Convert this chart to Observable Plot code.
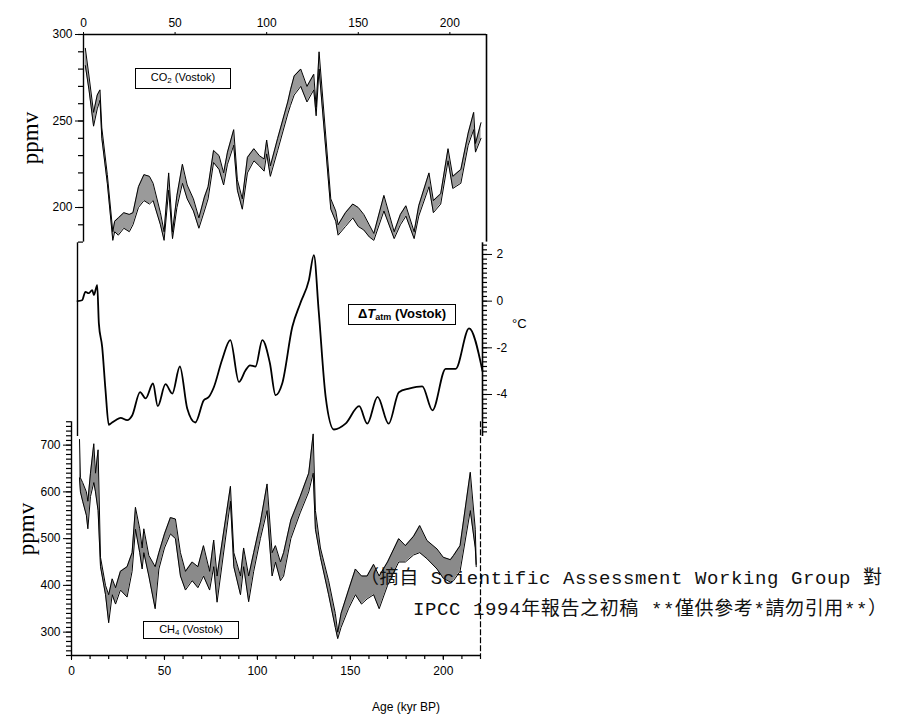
<!DOCTYPE html>
<html><head><meta charset="utf-8">
<script src="https://cdn.jsdelivr.net/npm/d3@7"></script>
<script src="https://cdn.jsdelivr.net/npm/@observablehq/plot@0.6"></script>
<style>
body{margin:0;background:#fff;}
#wrap{position:relative;width:897px;height:722px;background:#fff;overflow:hidden;font-family:"Liberation Sans",Arial,sans-serif;color:#000;}
#wrap svg{position:absolute;left:0;top:0;}
.box{position:absolute;border:1.5px solid #000;box-sizing:border-box;white-space:nowrap;background:#fff;text-align:center;}
.box sub{vertical-align:-2px;line-height:0;}
.lbl{position:absolute;white-space:nowrap;}
</style></head><body><div id="wrap"></div>
<script>
// ---- data ----
const co2Age = [1,3,5.5,7.5,9,10,13,16,17,19,22,25,27,30,33,36,38,42,44,46.5,48.6,51,54,56.6,60,63,66,68,71,74,76.5,78.6,82,84,86.7,89.5,93,96,98.6,100,102,106,111.5,113,115,118.6,122,125.7,127,128.6,135,137.7,139,143,147,150,153,156,158.5,164,169.6,173,176,180.5,183,188.6,191,195,199,201.6,206,210,213,214,217];
const co2Lo  = [282,268,247,257,262,240,214,181,186,184,188,186,190,200,204,202,204,190,181,210,182,200,214,205,198,188,198,205,226,222,213,225,236,210,199,220,227,224,221,231,218,233,254,259,265,270,261,268,253,280,199,192,184,189,194,189,187,183,181,198,182,190,195,182,195,212,197,202,227,211,214,236,245,232,240];
const co2Hi  = [292,276,255,265,268,246,219,186,192,194,197,196,197,212,219,218,214,197,186,220,186,207,225,213,205,194,206,212,233,230,220,232,245,216,205,229,234,230,228,239,224,240,261,268,276,280,270,277,258,290,205,198,190,197,202,200,196,190,185,207,186,196,201,186,201,220,204,208,234,218,222,243,255,237,249];

const tAge = [0,2.5,4.3,6,8,8.9,10.7,11.6,13.4,15.2,17,18.8,20.7,23.4,27,29.7,34,37,41,43.6,47.8,51.5,55.6,59.6,64,68.6,71.4,74,78.6,83,87.7,91.3,93.7,96.7,100.4,104.5,107.6,111.2,116.7,121,125.7,128.4,131,134.8,139.3,145.6,153,157.4,163,169,174.6,180,187.3,192.8,200,205.4,212.7,220];
const tVal = [0,0.04,0.4,0.34,0.47,0.26,0.69,-0.95,-1.96,-3.8,-5.3,-5.2,-5.1,-5.0,-5.1,-4.9,-3.9,-4.17,-3.53,-4.5,-3.56,-3.96,-2.8,-4.6,-5.2,-4.25,-4.1,-3.7,-2.5,-1.67,-3.46,-2.96,-2.75,-2.8,-1.67,-2.65,-4.03,-3.53,-1.1,-0.1,0.9,1.97,-0.4,-4.1,-5.5,-5.25,-4.5,-5.25,-4.1,-5.25,-3.9,-3.75,-3.65,-4.68,-2.9,-2.9,-1.17,-3.0];

const ch4Age = [4.3,4.8,6,8,8.8,10.2,12,12.9,14.3,15.6,18.3,20,21.9,23.7,26.3,29.9,32.6,34.4,36.7,38,38.9,41.6,45,47,50,53.2,55.9,58.6,61.3,64.9,68,71,74.3,76.5,78.3,85.5,87.3,90.9,92.6,95.3,98,101.6,105.2,107.9,109.7,112.4,114.1,118,123,127.6,130,131.2,133.9,138.3,141.9,143.2,145,149,152.7,156,159,162.5,165.5,170,176,179.6,184,187.3,191.2,196.6,200,203.8,205.5,209,214.5,217.2,217.7];
const ch4Hi  = [712,630,620,600,580,640,703,640,690,460,400,380,414,395,430,440,470,567,521,480,521,464,440,470,510,545,542,470,430,450,440,485,430,497,420,612,470,420,480,420,470,535,617,470,485,450,470,540,590,640,724,560,480,410,340,300,340,390,435,420,420,445,420,450,500,485,505,528,496,478,460,455,464,485,642,520,445];
const ch4Lo  = [630,600,580,550,521,590,620,600,560,440,380,320,380,360,390,375,430,520,470,435,470,420,350,435,480,510,500,420,390,410,395,420,390,440,364,580,440,380,440,365,430,500,560,420,450,410,420,500,555,600,640,520,460,380,310,286,310,350,380,360,371,380,350,400,450,450,465,470,457,435,415,407,410,430,560,480,440];

const ageTicks = [0,50,100,150,200];
const co2Ticks = [200,250,300];
const tTicks = [2,0,-2,-4];
const ch4Ticks = [300,400,500,600,700];
const co2Minor = d3.range(180,301,10);
const tMinor = d3.range(-28,13).map(k => k/5);
const ch4Minor = d3.range(250,751,10);
const ageMinor = d3.range(0,221,10);
const noteLine1 = "（摘自 Scientific Assessment Working Group 對";
const noteLine2 = "IPCC 1994年報告之初稿 **僅供參考*請勿引用**）";

// ---- layout ----
const W = 897, H = 722;
const wrap = document.getElementById("wrap");
const co2Rows = co2Age.map((a,i)=>({age:a, lo:co2Lo[i], hi:co2Hi[i]}));
const tRows = tAge.map((a,i)=>({age:a, t:tVal[i]}));
const ch4Rows = ch4Age.map((a,i)=>({age:a, lo:ch4Lo[i], hi:ch4Hi[i]}));

function mk(opts){
  const svg = Plot.plot(Object.assign({
    width: W, height: H,
    style: {background:"transparent", fontFamily:"Liberation Sans, Arial, sans-serif", fontSize:"12px", color:"#000"}
  }, opts));
  wrap.appendChild(svg);
}

// CO2 panel (frame x 83..486, y 34..241.6)
mk({marginLeft:83, marginRight:W-486, marginTop:34, marginBottom:H-241.6,
  x:{domain:[0,220], axis:"top", ticks:ageTicks, tickSize:3, tickPadding:5, label:null},
  y:{domain:[180,300], ticks:co2Ticks, tickSize:8, tickPadding:3, label:null},
  marks:[
    Plot.ruleY(co2Minor,{stroke:"#000", strokeWidth:1.2, insetLeft:-5, insetRight:486-83}),
    Plot.areaY(co2Rows,{x:"age", y1:"lo", y2:"hi", fill:"#9a9a9a"}),
    Plot.line(co2Rows,{x:"age", y:"lo", stroke:"#000", strokeWidth:1}),
    Plot.line(co2Rows,{x:"age", y:"hi", stroke:"#000", strokeWidth:1}),
    Plot.ruleY([300],{stroke:"#000", strokeWidth:1.6}),
    Plot.ruleX([0],{stroke:"#000", strokeWidth:1.4}),
    Plot.ruleX([220],{stroke:"#000", strokeWidth:1.6})
  ]});

// Temperature panel (frame x 77..482, y 242.3..436)
mk({marginLeft:77, marginRight:W-482, marginTop:242.3, marginBottom:H-436,
  x:{domain:[0,220], axis:null},
  y:{domain:[-5.8,2.5], axis:"right", ticks:tTicks, tickSize:9, tickPadding:5, label:null,
     tickFormat:d => (d<0 ? "-" + Math.abs(d) : String(d))},
  marks:[
    Plot.ruleY(tMinor,{stroke:"#000", strokeWidth:1.2, insetLeft:482-77, insetRight:-5}),
    Plot.ruleX([0],{stroke:"#000", strokeWidth:1.4}),
    Plot.ruleX([220],{stroke:"#000", strokeWidth:1.6}),
    Plot.line(tRows,{x:"age", y:"t", stroke:"#000", strokeWidth:1.8, curve:"monotone-x"})
  ]});

// CH4 panel (frame x 71..480, y 421.25..655)
mk({marginLeft:71, marginRight:W-480, marginTop:421.25, marginBottom:H-655,
  x:{domain:[0,220], ticks:ageTicks, tickSize:5, tickPadding:6, label:null},
  y:{domain:[250,750], ticks:ch4Ticks, tickSize:8, tickPadding:3, label:null},
  marks:[
    Plot.ruleY(ch4Minor,{stroke:"#000", strokeWidth:1.2, insetLeft:-5, insetRight:480-71}),
    Plot.ruleX(ageMinor,{stroke:"#000", strokeWidth:1.2, insetTop:655-421.25, insetBottom:-4}),
    Plot.areaY(ch4Rows,{x:"age", y1:"lo", y2:"hi", fill:"#8a8a8a"}),
    Plot.line(ch4Rows,{x:"age", y:"lo", stroke:"#000", strokeWidth:1}),
    Plot.line(ch4Rows,{x:"age", y:"hi", stroke:"#000", strokeWidth:1}),
    Plot.ruleY([250],{stroke:"#000", strokeWidth:1.6}),
    Plot.ruleX([0],{stroke:"#000", strokeWidth:1.4}),
    Plot.ruleX([220],{stroke:"#000", strokeWidth:1.2, strokeDasharray:"6,2"})
  ]});

// ---- annotations ----
function div(cls, css, html){ const d=document.createElement("div"); d.className=cls; d.style.cssText=css; d.innerHTML=html; wrap.appendChild(d); return d; }
div("box","left:135px;top:68px;width:96px;height:21px;font-size:11px;line-height:16px;","<span>CO<sub style='font-size:8px'>2</sub> (Vostok)</span>");
div("box","left:348px;top:304px;width:108px;height:21px;font-size:13px;line-height:18px;font-weight:bold;","<span>Δ<i>T</i><sub style='font-size:9px'>atm</sub> (Vostok)</span>");
div("box","left:143px;top:621px;width:96px;height:18px;font-size:11px;line-height:15px;","<span>CH<sub style='font-size:8px'>4</sub> (Vostok)</span>");
div("lbl","left:372px;top:700px;font-size:12px;","Age (kyr BP)");
div("lbl","left:512px;top:316px;font-size:13px;","°C");

const ann = d3.select(wrap).append("svg").attr("width",W).attr("height",H);
ann.append("text").attr("transform","translate(30,138) rotate(-90)").attr("text-anchor","middle")
  .attr("dominant-baseline","central").style("font-family","Liberation Serif, DejaVu Serif, serif").style("font-size","23px").text("ppmv");
ann.append("text").attr("transform","translate(26,529) rotate(-90)").attr("text-anchor","middle")
  .attr("dominant-baseline","central").style("font-family","Liberation Serif, DejaVu Serif, serif").style("font-size","23px").text("ppmv");
const noteFont = "Liberation Mono, 'Noto Sans CJK TC', monospace";
ann.append("text").attr("x",360).attr("y",584).attr("textLength",522).attr("lengthAdjust","spacing")
  .style("font-family",noteFont).style("font-size","19px").attr("fill","#111").text(noteLine1);
ann.append("text").attr("x",413).attr("y",615).attr("textLength",474).attr("lengthAdjust","spacing")
  .style("font-family",noteFont).style("font-size","19px").attr("fill","#111").text(noteLine2);
</script></body></html>
